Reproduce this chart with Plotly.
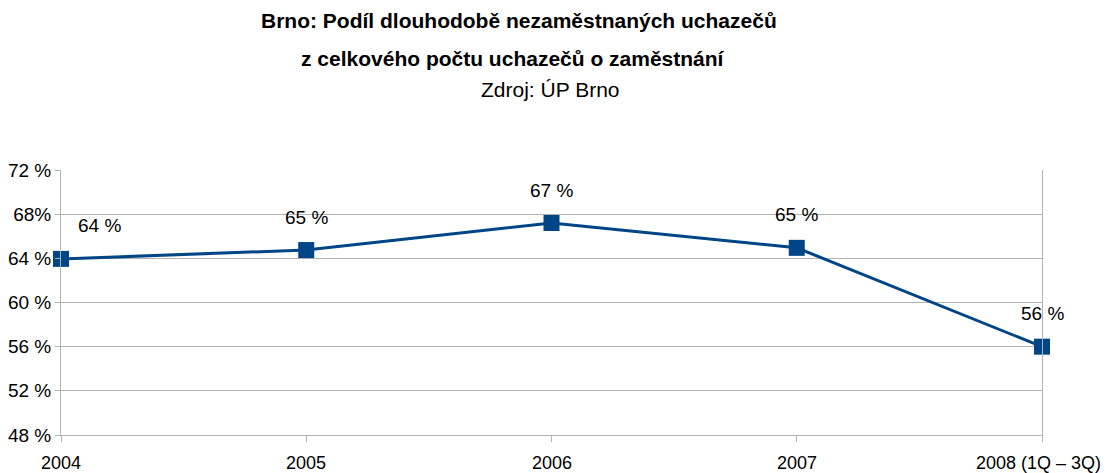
import plotly.graph_objects as go

categories = ["2004", "2005", "2006", "2007", "2008 (1Q – 3Q)"]
values = [63.95, 64.75, 67.2, 64.95, 56.0]
labels = ["64 %", "65 %", "67 %", "65 %", "56 %"]
y_ticks = [48, 52, 56, 60, 64, 68, 72]
y_tick_text = ["48 %", "52 %", "56 %", "60 %", "64 %", "68%", "72 %"]

LINE = "#004586"
GRID = "#b3b3b3"
FONT = "Liberation Sans, Arial, sans-serif"
# page offset from default body margin
OFF = 8
W, H = 1111, 473
L, R, T, B = 61, 1042, 170, 435  # plot area in page pixels

fig = go.Figure()
fig.add_trace(go.Scatter(
    x=list(range(len(categories))), y=values, mode="lines+markers",
    line=dict(color=LINE, width=3),
    marker=dict(symbol="square", size=16, color=LINE),
    hoverinfo="skip", showlegend=False, cliponaxis=False,
))

for i, (v, t) in enumerate(zip(values, labels)):
    fig.add_annotation(x=i, y=v, text=t, showarrow=False, yshift=33,
                       xshift=38 if i == 0 else 0,
                       font=dict(size=19, color="black", family=FONT))

# category labels under the axis (last one kept inside the visible page)
for i, c in enumerate(categories):
    last = i == len(categories) - 1
    fig.add_annotation(x=i, y=0, yref="paper", text=c, showarrow=False,
                       xanchor="right" if last else "center", yanchor="middle",
                       xshift=(1103 - R) if last else 0, yshift=-28,
                       font=dict(size=18, color="black", family=FONT))

def px_x(x):
    return (x - L) / (R - L)

fig.add_annotation(xref="paper", yref="paper", x=px_x(519), y=1,
                   yshift=(T - 20), text="<b>Brno: Podíl dlouhodobě nezaměstnaných uchazečů</b>",
                   showarrow=False, xanchor="center", yanchor="middle",
                   font=dict(size=21, color="black", family=FONT))
fig.add_annotation(xref="paper", yref="paper", x=px_x(513), y=1,
                   yshift=(T - 58), text="<b>z celkového počtu uchazečů o zaměstnání</b>",
                   showarrow=False, xanchor="center", yanchor="middle",
                   font=dict(size=21, color="black", family=FONT))
fig.add_annotation(xref="paper", yref="paper", x=px_x(550), y=1,
                   yshift=(T - 89), text="Zdroj: ÚP Brno",
                   showarrow=False, xanchor="center", yanchor="middle",
                   font=dict(size=21, color="black", family=FONT))

fig.update_layout(
    width=W - OFF, height=H - OFF,
    margin=dict(l=L - OFF, r=W - R, t=T - OFF, b=H - B, autoexpand=False),
    paper_bgcolor="white", plot_bgcolor="white",
    font=dict(family=FONT, size=19, color="black"),
    xaxis=dict(
        range=[0, len(categories) - 1], automargin=False,
        tickvals=list(range(len(categories))), showticklabels=False,
        showgrid=False, zeroline=False,
        showline=True, linecolor=GRID, linewidth=1, mirror=False,
        ticks="outside", ticklen=6, tickcolor=GRID, tickwidth=1,
    ),
    yaxis=dict(
        range=[48, 72], tickvals=y_ticks, ticktext=y_tick_text, automargin=False,
        showgrid=True, gridcolor=GRID, gridwidth=1, zeroline=False,
        showline=True, linecolor=GRID, linewidth=1, mirror=True,
        ticks="outside", ticklen=5, tickcolor=GRID, tickwidth=1,
        tickfont=dict(size=19, color="black"),
    ),
)

fig.write_html("out.html")
